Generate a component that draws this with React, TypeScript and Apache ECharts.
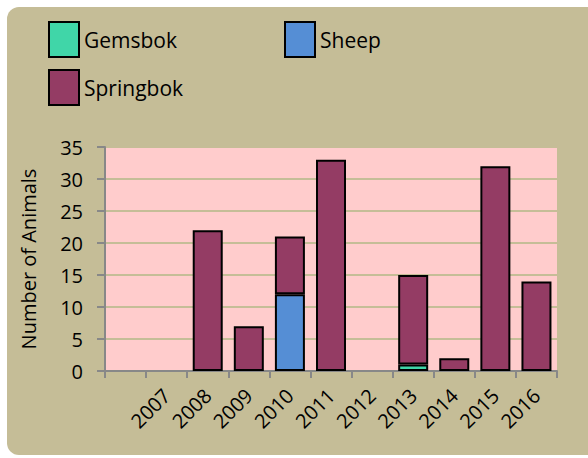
import React, { useEffect, useRef } from "react";
import * as echarts from "echarts";

const categories = ["", "2007", "2008", "2009", "2010", "2011", "2012", "2013", "2014", "2015", "2016"];
const gemsbok = [null, null, null, null, null, null, null, 1, null, null, null];
const sheep = [null, null, null, null, 12, null, null, null, null, null, null];
const springbok = [null, null, 22, 7, 9, 33, null, 14, 2, 32, 14];
const yTicks = { min: 0, max: 35, interval: 5 };

const FONT = "Open Sans";
const TAN = "#c5bd97";

export default function App() {
  const ref = useRef<HTMLDivElement>(null);
  useEffect(() => {
    if (!ref.current) return;
    const chart = echarts.init(ref.current, null, { renderer: "svg" });
    const barStyle = (color: string) => ({ color, borderColor: "#000", borderWidth: 2 });
    const legendBase = {
      padding: 0,
      itemWidth: 30,
      itemHeight: 35,
      itemGap: 4,
      icon: "rect",
      itemStyle: { borderColor: "#000", borderWidth: 2 },
      textStyle: { fontFamily: FONT, fontSize: 21, color: "#000" },
    };
    chart.setOption({
      animation: false,
      backgroundColor: "#ffffff",
      graphic: [
        {
          type: "rect",
          z: -100,
          shape: { x: 7, y: 7, width: 620, height: 448, r: 12 },
          style: { fill: TAN },
          silent: true,
        },
      ],
      legend: [
        { ...legendBase, data: ["Gemsbok"], left: 48, top: 21 },
        { ...legendBase, data: ["Sheep"], left: 284, top: 21 },
        { ...legendBase, data: ["Springbok"], left: 48, top: 69 },
      ],
      grid: { left: 105, right: 31, top: 147, bottom: 87, show: true, backgroundColor: "#ffcccc", borderWidth: 0 },
      xAxis: {
        type: "category",
        data: categories,
        boundaryGap: true,
        axisLine: { lineStyle: { color: "#888", width: 2 } },
        axisTick: { show: true, length: 7, alignWithLabel: false, lineStyle: { color: "#888", width: 2 } },
        axisLabel: { rotate: 45, fontFamily: FONT, fontSize: 20, color: "#000", margin: 21, interval: 0 },
      },
      yAxis: {
        type: "value",
        min: yTicks.min,
        max: yTicks.max,
        interval: yTicks.interval,
        name: "Number of Animals",
        nameLocation: "middle",
        nameGap: 67,
        nameTextStyle: { fontFamily: FONT, fontSize: 20, color: "#000" },
        axisLine: { show: true, lineStyle: { color: "#888", width: 2 } },
        axisTick: { show: true, length: 8, lineStyle: { color: "#888", width: 2 } },
        axisLabel: { fontFamily: FONT, fontSize: 20, color: "#000", margin: 22 },
        splitLine: { lineStyle: { color: TAN, width: 2 } },
      },
      series: [
        { name: "Gemsbok", type: "bar", stack: "a", data: gemsbok, barWidth: 30, itemStyle: barStyle("#40d6a8") },
        { name: "Sheep", type: "bar", stack: "a", data: sheep, barWidth: 30, itemStyle: barStyle("#558ed5") },
        { name: "Springbok", type: "bar", stack: "a", data: springbok, barWidth: 30, itemStyle: barStyle("#943c64") },
      ],
    });
    return () => chart.dispose();
  }, []);
  return (
    <div style={{ position: "fixed", left: 0, top: 0, width: 588, height: 458, overflow: "hidden" }}>
      <div ref={ref} style={{ width: 588, height: 458 }} />
    </div>
  );
}
